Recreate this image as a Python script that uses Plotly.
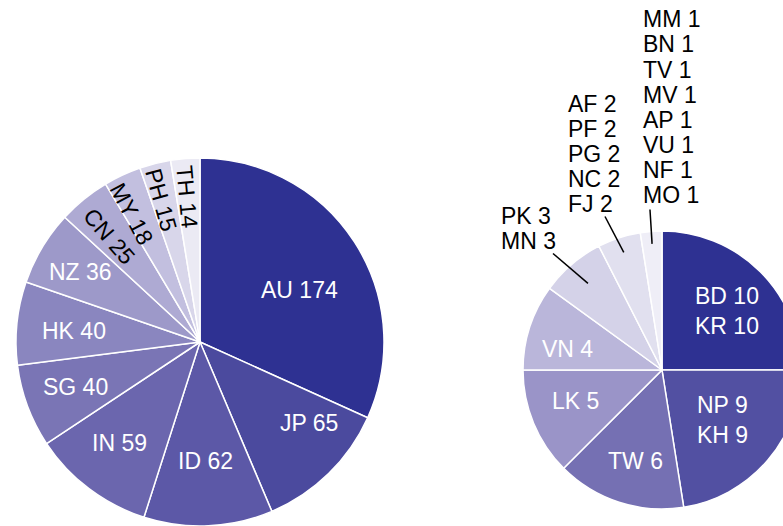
import math
import plotly.graph_objects as go

# ---- data -------------------------------------------------------------
left_codes = ["AU", "JP", "ID", "IN", "SG", "HK", "NZ", "CN", "MY", "PH", "TH"]
left_values = [174, 65, 62, 59, 40, 40, 36, 25, 18, 15, 14]

right_groups = [
    ["BD", "KR"],
    ["NP", "KH"],
    ["TW"],
    ["LK"],
    ["VN"],
    ["PK", "MN"],
    ["AF", "PF", "PG", "NC", "FJ"],
    ["MM", "BN", "TV", "MV", "AP", "VU", "NF", "MO"],
]
right_values = [10, 9, 6, 5, 4, 3, 2, 1]

# ---- styling ----------------------------------------------------------
left_colors = ["#2e3192", "#4b4a9e", "#5c58a7", "#6b66ae", "#7a75b5", "#8a86bf",
               "#9d99c9", "#aeaad3", "#c2bfdf", "#d8d6ea", "#ebeaf4"]
left_text_colors = ["white"] * 7 + ["black"] * 4
# label placement inside each slice: (angle nudge in degrees, radius fraction, radial?)
left_label_pos = [(5, 0.61, False), (-9, 0.74, False), (0, 0.65, False),
                  (1.5, 0.70, False), (0.5, 0.72, False), (-1, 0.69, False),
                  (-0.5, 0.75, False), (-1.5, 0.76, True), (-3, 0.79, True),
                  (-1.2, 0.80, True), (-0.6, 0.79, True)]

right_colors = ["#2e3192", "#5250a2", "#7570b3", "#9a94c8", "#bab6da",
                "#d4d2e8", "#e1e0ef", "#efeef7"]
right_text_colors = ["white"] * 5
right_label_pos = [(3, 0.63), (-1, 0.56), (-1.5, 0.68), (3, 0.66), (-5.5, 0.70)]
n_inside = len(right_label_pos)

FONT = "Arial, Liberation Sans, sans-serif"
FS = 23
W, H = 820, 526

# pie geometry in pixels (centre x, centre y, radius)
LEFT_GEOM = (200, 342, 184)
RIGHT_GEOM = (662, 370, 139)


def domain(cx, cy, r):
    return dict(x=[(cx - r) / W, (cx + r) / W],
                y=[1 - (cy + r) / H, 1 - (cy - r) / H])


def px2paper(x, y):
    return x / W, 1 - y / H


def mid_angles(values):
    total = sum(values)
    out, cum = [], 0
    for v in values:
        out.append((cum + v / 2) / total * 360)
        cum += v
    return out


def polar_px(geom, angle_deg, frac):
    cx, cy, r = geom
    a = math.radians(angle_deg)
    return cx + r * frac * math.sin(a), cy - r * frac * math.cos(a)


annotations = []
shapes = []


def add_lines(lines, x, y, color, gap, xanchor="center", angle=0):
    n = len(lines)
    for k, t in enumerate(lines):
        yk = y + (k - (n - 1) / 2) * gap
        xp, yp = px2paper(x, yk)
        annotations.append(dict(
            x=xp, y=yp, xref="paper", yref="paper",
            xanchor=xanchor, yanchor="middle", textangle=angle,
            text=t, showarrow=False,
            font=dict(family=FONT, size=FS, color=color),
        ))


fig = go.Figure()

fig.add_trace(go.Pie(
    labels=left_codes,
    values=left_values,
    textinfo="none",
    sort=False,
    direction="clockwise",
    rotation=0,
    marker=dict(colors=left_colors, line=dict(color="white", width=1.5)),
    domain=domain(*LEFT_GEOM),
    showlegend=False,
    hoverinfo="label+value",
))

right_labels = ["/".join(g) for g in right_groups]
fig.add_trace(go.Pie(
    labels=right_labels,
    values=right_values,
    textinfo="none",
    sort=False,
    direction="clockwise",
    rotation=0,
    marker=dict(colors=right_colors, line=dict(color="white", width=1.5)),
    domain=domain(*RIGHT_GEOM),
    showlegend=False,
    hoverinfo="label+value",
))

# ---- left pie labels --------------------------------------------------
for code, v, mid, col, (nudge, frac, radial) in zip(
        left_codes, left_values, mid_angles(left_values),
        left_text_colors, left_label_pos):
    ang = mid + nudge
    x, y = polar_px(LEFT_GEOM, ang, frac)
    add_lines([f"{code} {v}"], x, y, col, 0, angle=(ang - 270) if radial else 0)

# ---- right pie labels -------------------------------------------------
right_mids = mid_angles(right_values)
for i in range(n_inside):
    nudge, frac = right_label_pos[i]
    x, y = polar_px(RIGHT_GEOM, right_mids[i] + nudge, frac)
    lines = [f"{c} {right_values[i]}" for c in right_groups[i]]
    add_lines(lines, x, y, right_text_colors[i], 30)

# outside labels for the smallest slices, with leader lines
# (left x, centre y of the label block) in pixels
outside_anchor = {5: (499, 228), 6: (566, 153.5), 7: (641, 107)}
# leader-line tail relative to the label's lower-left corner
tail_offset = {5: (54, 13), 6: (39, 13), 7: (9, 15)}
tip_frac = {5: 0.82, 6: 0.89, 7: 0.91}
OUT_GAP = 25

for i in range(n_inside, len(right_values)):
    g, v = right_groups[i], right_values[i]
    ax, ay = outside_anchor[i]
    add_lines([f"{c} {v}" for c in g], ax, ay, "black", OUT_GAP, xanchor="left")
    last_y = ay + (len(g) - 1) / 2 * OUT_GAP
    tx, ty = polar_px(RIGHT_GEOM, right_mids[i], tip_frac[i])
    sx, sy = ax + tail_offset[i][0], last_y + tail_offset[i][1]
    x0, y0 = px2paper(sx, sy)
    x1, y1 = px2paper(tx, ty)
    shapes.append(dict(type="line", xref="paper", yref="paper",
                       x0=x0, y0=y0, x1=x1, y1=y1,
                       line=dict(color="black", width=1.5)))

fig.update_layout(
    width=W, height=H, autosize=False,
    margin=dict(l=0, r=0, t=0, b=0),
    paper_bgcolor="white",
    plot_bgcolor="white",
    annotations=annotations,
    shapes=shapes,
    font=dict(family=FONT),
)

fig.write_html(
    "out.html",
    post_script="document.documentElement.style.overflow='hidden';"
                "document.body.style.overflow='hidden';document.body.style.margin='0';",
)
